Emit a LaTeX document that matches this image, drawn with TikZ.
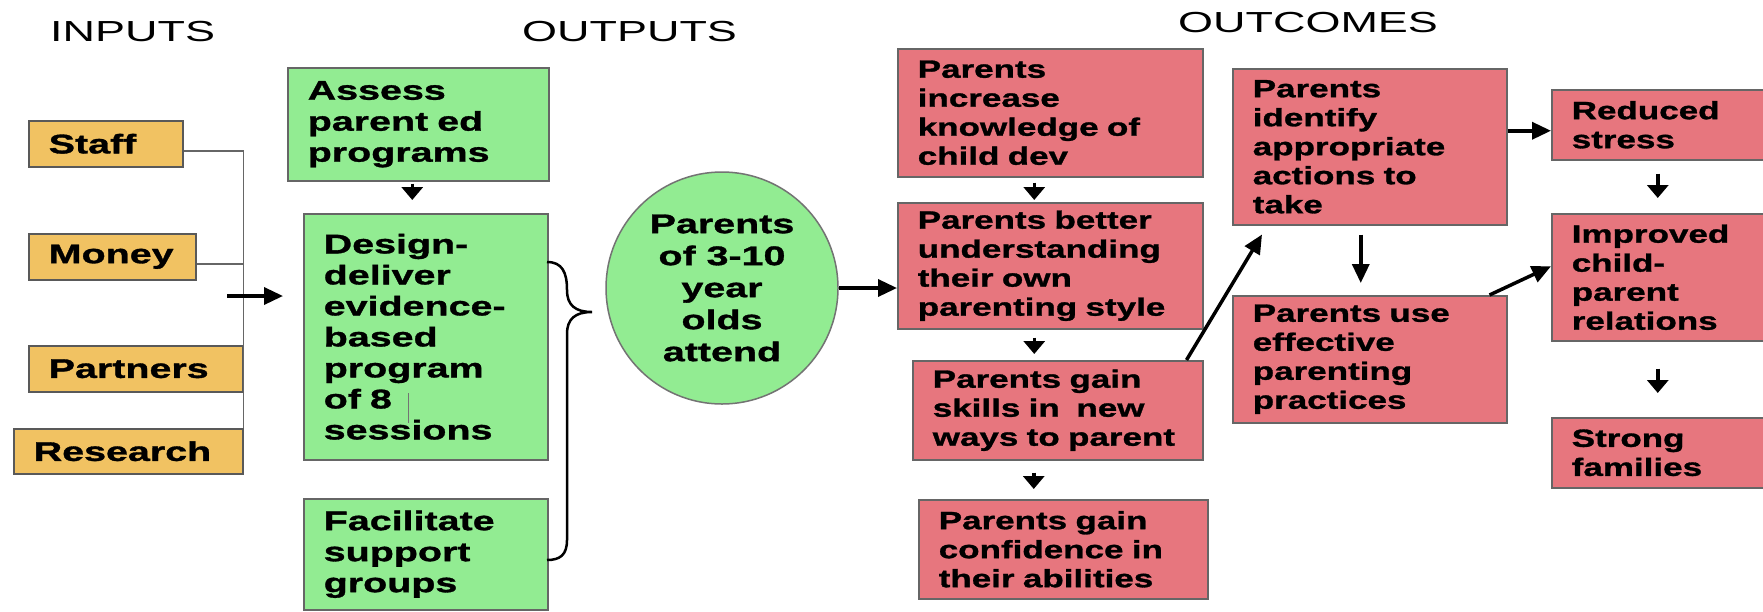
\documentclass[tikz,border=0pt]{standalone}
\usepackage{fontspec}
\usetikzlibrary{arrows.meta}
\newfontfamily\headfont{Liberation Sans}[FakeStretch=1.55]
\newfontfamily\greenfont{Liberation Sans}[FakeStretch=1.46, BoldFeatures={FakeBold=1.2}]
\newfontfamily\pinkfont{Liberation Sans}[FakeStretch=1.4, BoldFeatures={FakeBold=1.2}]
\definecolor{inbox}{RGB}{241,194,98}
\definecolor{outbox}{RGB}{146,236,146}
\definecolor{endbox}{RGB}{231,118,126}
\tikzset{
  heading/.style={anchor=base west, inner sep=0pt, font=\headfont\fontsize{29}{32}\selectfont},
  input/.style={draw=black!65, line width=1.5pt, fill=inbox, anchor=north west, align=left, inner xsep=20pt, inner ysep=0pt, font=\greenfont\bfseries\fontsize{27}{31}\selectfont},
  output/.style={draw=black!60, line width=1.5pt, fill=outbox, anchor=north west, align=left, inner xsep=20pt, inner ysep=0pt, font=\greenfont\bfseries\fontsize{27}{31}\selectfont},
  outcome/.style={draw=black!60, line width=1.5pt, fill=endbox, anchor=north west, align=left, inner xsep=20pt, inner ysep=0pt, font=\pinkfont\bfseries\fontsize{25}{29}\selectfont},
  arr/.style={-{Triangle[length=19pt,width=17pt]}, line width=3.5pt},
  stub/.style={-{Triangle[length=13pt,width=21pt]}, line width=3.5pt},
  feed/.style={draw=black!60, line width=1.5pt}
}
\begin{document}
\begin{tikzpicture}[x=1pt,y=-1pt]
\useasboundingbox (0,0) rectangle (1763,611);
\clip (0,0) rectangle (1763,611);
\fill[white] (0,0) rectangle (1763,611);

\node[heading] (inputs) at (50,41) {INPUTS};
\node[heading] (outputs) at (522,41) {OUTPUTS};
\node[heading] (outcomes) at (1178,32) {OUTCOMES};

\node[input, minimum width=154pt, minimum height=46pt, text width=114pt] (staff) at (28,120) {Staff};
\node[input, minimum width=167pt, minimum height=46pt, text width=127pt] (money) at (28,233) {Money};
\node[input, minimum width=214pt, minimum height=46pt, text width=174pt] (partners) at (28,345) {Partners};
\node[input, minimum width=229pt, minimum height=45pt, text width=189pt] (research) at (13,428) {Research};

\node[output, minimum width=261pt, minimum height=113pt, text width=221pt] (assess) at (287,67) {Assess\\parent ed\\programs};
\node[output, minimum width=244pt, minimum height=246pt, text width=204pt] (design) at (303,213) {Design-\\deliver\\evidence-\\based\\program\\of 8\\sessions};
\node[output, minimum width=244pt, minimum height=111pt, text width=204pt] (facil) at (303,498) {Facilitate\\support\\groups};
\node[circle, draw=black!55, line width=1.5pt, fill=outbox, minimum size=232pt, inner sep=0pt, align=center, font=\greenfont\bfseries\fontsize{27}{32}\selectfont] (attend) at (722,288) {Parents\\of 3-10\\year\\olds\\attend};

\node[outcome, minimum width=305pt, minimum height=128pt, text width=265pt] (know) at (897,48) {Parents\\increase\\knowledge of\\child dev};
\node[outcome, minimum width=305pt, minimum height=126pt, text width=265pt] (style) at (897,202) {Parents better\\understanding\\their own\\parenting style};
\node[outcome, minimum width=290pt, minimum height=99pt, text width=250pt] (skills) at (912,360) {Parents gain\\skills in~ new\\ways to parent};
\node[outcome, minimum width=289pt, minimum height=99pt, text width=249pt] (confid) at (918,499) {Parents gain\\confidence in\\their abilities};
\node[outcome, minimum width=274pt, minimum height=156pt, text width=234pt] (identify) at (1232,68) {Parents\\identify\\appropriate\\actions to\\take};
\node[outcome, minimum width=274pt, minimum height=127pt, text width=234pt] (use) at (1232,295) {Parents use\\effective\\parenting\\practices};
\node[outcome, minimum width=224pt, minimum height=70pt, text width=184pt] (reduced) at (1551,89) {Reduced\\stress};
\node[outcome, minimum width=224pt, minimum height=127pt, text width=184pt] (improved) at (1551,213) {Improved\\child-\\parent\\relations};
\node[outcome, minimum width=224pt, minimum height=70pt, text width=184pt] (strong) at (1551,417) {Strong\\families};

\draw[feed] ([yshift=-7pt]staff.east) -| (research.north east);
\draw[feed] ([yshift=-7pt]money.east) -- ([yshift=-7pt]money.east -| research.east);
\coordinate (feedin) at (227,296);
\draw[arr, shorten >=20pt] (feedin) -- (feedin -| design.west);
\draw[stub, shorten <=2pt, shorten >=13pt] ([xshift=-6pt]assess.south) -- ([xshift=-6pt]assess.south |- design.north);
\draw[black!55, line width=1pt] (408,393) -- (408,423);
\draw[line width=2.5pt] (547,262) .. controls (562,262) and (567,272) .. (567,290) .. controls (567,305) and (575,312) .. (592,312) .. controls (575,312) and (567,319) .. (567,334) -- (567,540) .. controls (567,555) and (560,560) .. (547,560);

\draw[arr] (attend.east) -- (attend.east -| style.west);
\draw[stub, shorten <=5pt, shorten >=2pt] ([xshift=-16pt]know.south) -- ([xshift=-16pt]know.south |- style.north);
\draw[stub, shorten <=8pt, shorten >=6pt] ([xshift=-16pt]style.south) -- ([xshift=-16pt]style.south |- skills.north);
\draw[stub, shorten <=12pt, shorten >=10pt] ([xshift=-24pt]skills.south) -- ([xshift=-24pt]skills.south |- confid.north);
\draw[arr] ([xshift=-17pt]skills.north east) -- ([xshift=30pt,yshift=-9pt]identify.south west);
\draw[arr, shorten <=9pt, shorten >=12pt] ([xshift=-9pt]identify.south) -- ([xshift=-9pt]identify.south |- use.north);
\coordinate (rs) at ([yshift=-6pt]reduced.west);
\draw[arr] (rs -| identify.east) -- (rs);
\draw[arr] ([xshift=-18pt]use.north east) -- ([yshift=11pt]improved.west);
\draw[stub, shorten <=13pt, shorten >=15pt] ([xshift=-6pt]reduced.south) -- ([xshift=-6pt]reduced.south |- improved.north);
\draw[stub, shorten <=27pt, shorten >=24pt] ([xshift=-6pt]improved.south) -- ([xshift=-6pt]improved.south |- strong.north);
\end{tikzpicture}
\end{document}
